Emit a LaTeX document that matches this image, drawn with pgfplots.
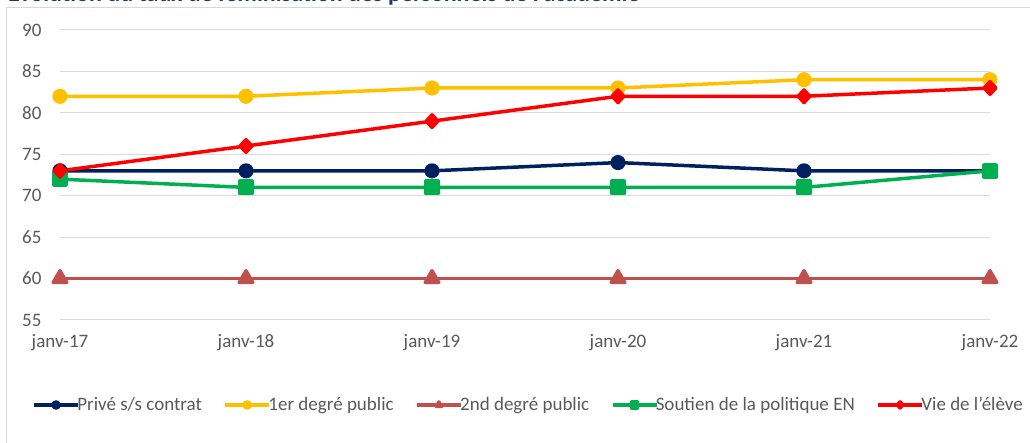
\documentclass[border=0pt]{standalone}
\usepackage{fontspec}
\setmainfont{Carlito}
\usepackage{pgfplots}
\pgfplotsset{compat=1.18}

\definecolor{navy}{HTML}{002060}
\definecolor{jaune}{HTML}{FFC000}
\definecolor{brique}{HTML}{C0504D}
\definecolor{vert}{HTML}{00B050}
\definecolor{rouge}{HTML}{FF0000}
\definecolor{texte}{HTML}{595959}
\definecolor{grille}{HTML}{D9D9D9}
\definecolor{titre}{HTML}{1F3864}

\begin{document}
\begin{tikzpicture}
% frame of the chart area
\draw[grille, line width=1pt] (6.5pt,-10pt) rectangle (1045pt,435pt);
% title, cut by the top edge as in the source
\node[anchor=base west, inner sep=0pt, text=titre]
  at (8pt,441pt) {\fontsize{24}{28}\selectfont\bfseries Évolution du taux de féminisation des personnels de l'académie};

\begin{axis}[
  at={(60pt,123pt)}, anchor=south west,
  scale only axis, width=930pt, height=290pt,
  xmin=0, xmax=5, ymin=55, ymax=90,
  xtick={0,...,5},
  xticklabels={janv-17,janv-18,janv-19,janv-20,janv-21,janv-22},
  ytick={55,60,...,90},
  axis line style={draw=none},
  tick style={draw=none},
  ymajorgrids, grid style={grille, line width=1pt},
  /pgf/number format/assume math mode=true,
  tick label style={font=\fontsize{19}{22}\selectfont, text=texte},
  yticklabel style={xshift=-15pt},
  xticklabel style={yshift=-11pt},
  every axis plot/.append style={line width=3.5pt, line join=round},
  legend columns=5,
  legend style={at={(0.503,-0.293)}, anchor=center, draw=none, fill=none,
    font=\fontsize{19}{22}\selectfont, text=texte,
    nodes={inner xsep=0.5pt},
    /tikz/every odd column/.append style={column sep=-3pt},
    /tikz/every even column/.append style={column sep=21pt}},
  legend image code/.code={
    \draw[#1, mark=none] (0pt,0pt) -- (44pt,0pt);
    \draw[#1, mark size=3pt] plot coordinates {(22pt,0pt)};
  },
]
\addplot[navy, mark=*, mark size=5.8pt] coordinates {
  (0,73)(1,73)(2,73)(3,74)(4,73)(5,73)};
\addplot[jaune, mark=*, mark size=5.8pt] coordinates {
  (0,82)(1,82)(2,83)(3,83)(4,84)(5,84)};
\addplot[brique, mark=triangle*, mark size=7.8pt] coordinates {
  (0,60)(1,60)(2,60)(3,60)(4,60)(5,60)};
\addplot[vert, mark=square*, mark size=6.2pt] coordinates {
  (0,72)(1,71)(2,71)(3,71)(4,71)(5,73)};
\addplot[rouge, mark=diamond*, mark size=6.3pt, mark options={xscale=1.22}] coordinates {
  (0,73)(1,76)(2,79)(3,82)(4,82)(5,83)};
\legend{Privé s/s contrat, 1er degré public, 2nd degré public, Soutien de la politique EN, Vie de l'élève}
\end{axis}
\pgfresetboundingbox
\useasboundingbox (0,0) rectangle (1030pt,443pt);
\end{tikzpicture}
\end{document}
